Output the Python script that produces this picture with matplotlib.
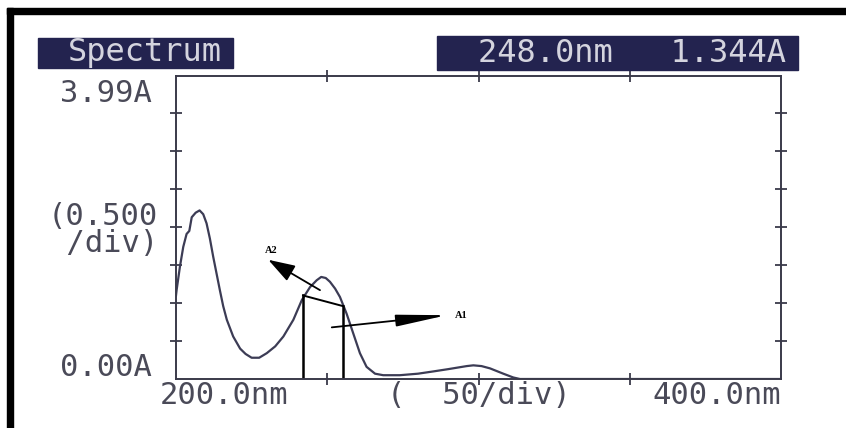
import numpy as np
import matplotlib
matplotlib.use("Agg")
import matplotlib.pyplot as plt
from matplotlib.patches import Rectangle

# spectrum trace (nm, absorbance)
wavelength = [200.0, 200.2, 201.3, 202.4, 203.5, 204.4, 205.2, 206.5, 207.8, 209.0, 210.1,
              211.2, 212.3, 213.4, 214.5, 215.6, 216.8, 218.9, 221.2, 223.0, 225.0,
              227.5, 230.0, 232.8, 235.5, 238.8, 241.6, 244.3, 246.5, 248.0, 249.5,
              250.9, 252.6, 254.2, 256.4, 258.6, 260.8, 263.0, 265.8, 268.5, 274.0,
              280.0, 285.1, 290.0, 296.1, 298.3, 301.0, 303.8, 308.2, 311.5, 313.7,
              330.0, 360.0, 400.0]
absorb = [1.10, 1.17, 1.48, 1.74, 1.91, 1.95, 2.13, 2.19, 2.22, 2.17, 2.05,
          1.85, 1.61, 1.39, 1.17, 0.96, 0.78, 0.56, 0.40, 0.33, 0.28,
          0.28, 0.34, 0.43, 0.56, 0.78, 1.04, 1.21, 1.30, 1.344, 1.33,
          1.28, 1.19, 1.08, 0.86, 0.60, 0.34, 0.16, 0.07, 0.05, 0.05,
          0.07, 0.10, 0.13, 0.17, 0.18, 0.17, 0.14, 0.07, 0.02, 0.0,
          0.0, 0.0, 0.0]

# hand-drawn annotation on the scan
band_x = [242.0, 255.2]
band_top = [1.10, 0.96]
a2_tail, a2_tip, a2_text = (247.6, 1.17), (230.5, 1.57), (229.4, 1.69)
a1_tail, a1_tip, a1_text = (251.5, 0.68), (289.5, 0.84), (292.2, 0.84)

x_ticks = [250, 300, 350]
y_ticks = [0.5, 1.0, 1.5, 2.0, 2.5, 3.0, 3.5]

W, H = 846, 428
ink = "#3a3a4a"
mono = "DejaVu Sans Mono"


def fx(x):
    return x / W


def fy(y):
    return 1 - y / H


fig = plt.figure(figsize=(W / 100, H / 100), dpi=100)
fig.patch.set_facecolor("white")

ax = fig.add_axes([fx(176), fy(379), fx(781) - fx(176), fy(76) - fy(379)])
ax.plot(wavelength, absorb, color="#3c3c55", lw=1.6)
ax.set_xlim(200, 400)
ax.set_ylim(0, 3.99)
ax.set_xticks(x_ticks)
ax.set_yticks(y_ticks)
ax.tick_params(which="both", direction="inout", length=9, width=1.3, color=ink,
               top=True, right=True, labelbottom=False, labelleft=False)
for s in ax.spines.values():
    s.set_color(ink)
    s.set_linewidth(1.4)
ax.set_facecolor("none")

# band lines
ax.plot([band_x[0], band_x[0]], [0, band_top[0]], color="black", lw=1.8)
ax.plot([band_x[1], band_x[1]], [0, band_top[1]], color="black", lw=1.8)
ax.plot(band_x, band_top, color="black", lw=1.4)

ax.annotate("", xy=a2_tip, xytext=a2_tail,
            arrowprops=dict(arrowstyle="-|>,head_length=1.65,head_width=0.54",
                            mutation_scale=10, color="black", lw=1.3,
                            shrinkA=0, shrinkB=0))
ax.annotate("", xy=a1_tip, xytext=a1_tail,
            arrowprops=dict(arrowstyle="-|>,head_length=3.1,head_width=0.36",
                            mutation_scale=10, color="black", lw=1.3,
                            shrinkA=0, shrinkB=0))
ax.text(a2_text[0], a2_text[1], "A2", fontsize=7.5, fontweight="bold",
        family="Liberation Serif", va="center", ha="left")
ax.text(a1_text[0], a1_text[1], "A1", fontsize=7.5, fontweight="bold",
        family="Liberation Serif", va="center", ha="left")

# axis labels as printed
lab = dict(family=mono, fontsize=22, color="#4a4a58")
fig.text(fx(160), fy(395), "200.0nm", ha="left", va="center", **lab)
fig.text(fx(387), fy(395), "(  50/div)", ha="left", va="center", **lab)
fig.text(fx(781), fy(395), "400.0nm", ha="right", va="center", **lab)
fig.text(fx(60), fy(94), "3.99A", ha="left", va="center", **lab)
fig.text(fx(48), fy(230), "(0.500\n /div)", ha="left", va="center",
         linespacing=0.95, **lab)
fig.text(fx(60), fy(367), "0.00A", ha="left", va="center", **lab)

# header boxes
box_c = "#23234f"
fig.add_artist(Rectangle((fx(38), fy(68)), fx(233) - fx(38), fy(38) - fy(68),
                         transform=fig.transFigure, color=box_c))
fig.add_artist(Rectangle((fx(437), fy(70)), fx(798) - fx(437), fy(36) - fy(70),
                         transform=fig.transFigure, color=box_c))
btxt = dict(family=mono, fontsize=23, color="#d4d4de")
fig.text(fx(145), fy(53), "Spectrum", ha="center", va="center", **btxt)
fig.text(fx(632), fy(53), "248.0nm   1.344A", ha="center", va="center", **btxt)

# black scan border
fig.add_artist(Rectangle((fx(7), 0), fx(6), fy(8), transform=fig.transFigure,
                         color="black"))
fig.add_artist(Rectangle((fx(7), fy(14)), 1 - fx(7), 6 / H,
                         transform=fig.transFigure, color="black"))

fig.savefig("out.png", dpi=100)
